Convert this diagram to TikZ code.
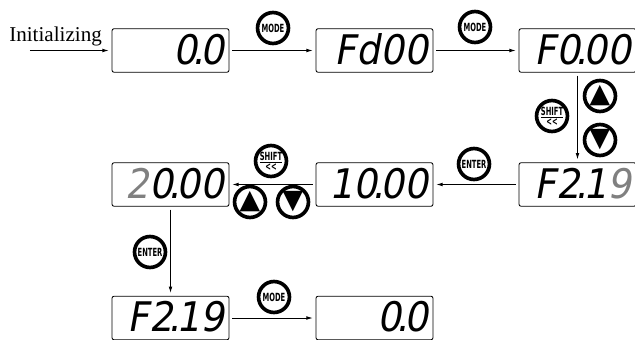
\documentclass[tikz,border=0pt]{standalone}
\usepackage{fontspec}
\setmainfont{Liberation Serif}
\newfontfamily\segfont[FakeSlant=0.18,FakeStretch=0.92]{DejaVu Sans}
\newfontfamily\keyfont[FakeStretch=0.6]{DejaVu Sans}
\newfontfamily\symfont{DejaVu Sans}
\newcommand{\segdot}{\kern-0.11em.\kern-0.11em}
\usetikzlibrary{arrows.meta}
\begin{document}
\begin{tikzpicture}[x=0.025cm, y=-0.025cm,
    panel/.style={draw, rounded corners=1.5pt, line width=0.6pt, minimum height=31pt, text width=76pt, text height=21.8pt, text depth=2pt, inner xsep=3.6pt, inner ysep=0pt, align=right, font=\segfont\fontsize{29}{29}\selectfont},
    key/.style={circle, draw, line width=2.6pt, minimum size=22pt, inner sep=0pt, font=\keyfont\bfseries\fontsize{8}{8}\selectfont},
    arrowkey/.style={key, font=\symfont\fontsize{19}{19}\selectfont},
    flow/.style={-{Latex[length=4.5pt,width=2.6pt]}, line width=0.6pt, shorten <=2pt, shorten >=2pt}]
    \useasboundingbox (0, 0) rectangle (635, 340);
    \draw (9, 42) node[anchor=base west, inner sep=0pt, font=\fontsize{15}{15}\selectfont](init){Initializing};
    \coordinate (start) at (27, 50.5);

    \draw (170.5, 50.5) node[panel](d1){0\segdot0}
       (374.5, 50.5) node[panel](d2){Fd00}
       (577.5, 50.5) node[panel](d3){F0\segdot00}
       (577.5, 184.5) node[panel](d4){F2\segdot1\textcolor{gray}{9}}
       (374.5, 184.5) node[panel](d5){10\segdot00}
       (170.5, 184.5) node[panel](d6){\textcolor{gray}{2}0\segdot00}
       (170.5, 318) node[panel](d7){F2\segdot19}
       (374.5, 318) node[panel](d8){0\segdot0};

    \draw (273, 28) node[key](mode1){MODE}
       (475, 27) node[key](mode2){MODE}
       (474, 164) node[key](enter1){ENTER}
       (150, 252) node[key](enter2){ENTER}
       (274, 297) node[key](mode3){MODE}
       (552, 116) node[key, align=center](shift1){\underline{SHIFT}\\[-1pt]<{}<}
       (271, 161) node[key, align=center](shift2){\underline{SHIFT}\\[-1pt]<{}<}
       (600, 96) node[arrowkey](up1){▲}
       (600, 140) node[arrowkey](down1){▼}
       (250, 202) node[arrowkey](up2){▲}
       (293, 202) node[arrowkey](down2){▼};

    \draw[flow] (start) -- (d1);
    \draw[flow] (d1) -- (d2);
    \draw[flow] (d2) -- (d3);
    \draw[flow] (d3) -- (d4);
    \draw[flow] (d4) -- (d5);
    \draw[flow] (d5) -- (d6);
    \draw[flow] (d6) -- (d7);
    \draw[flow] (d7) -- (d8);
\end{tikzpicture}
\end{document}
